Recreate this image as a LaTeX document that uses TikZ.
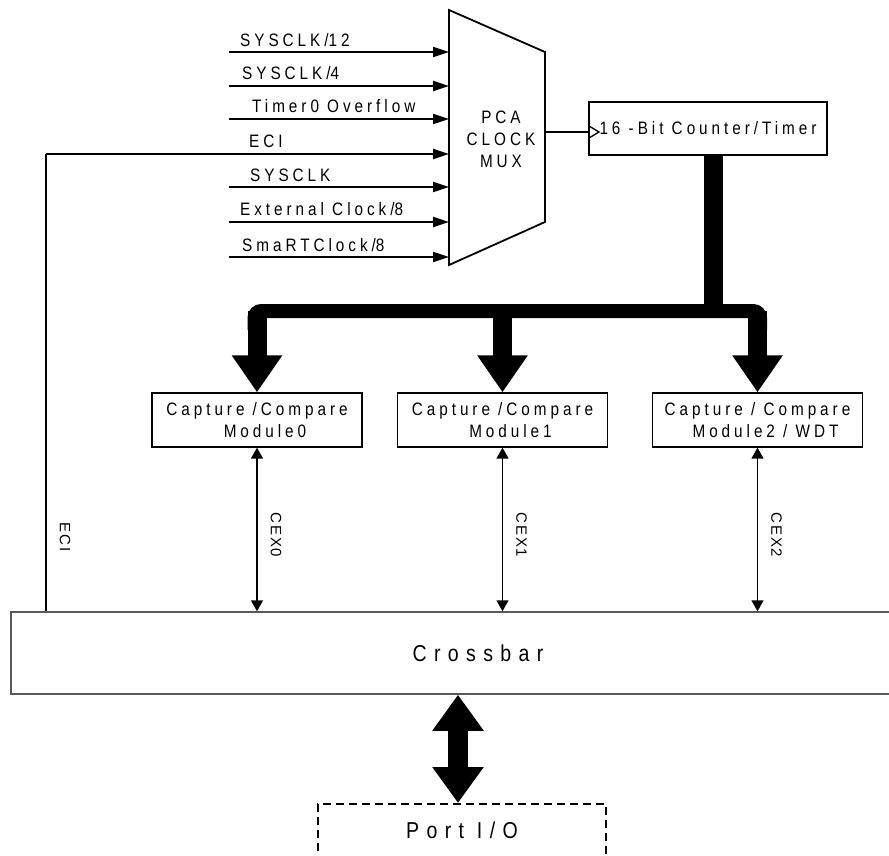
\documentclass[tikz,border=0pt]{standalone}
\usepackage{fontspec}
\setmainfont{Liberation Sans}
\newfontfamily\lf[FakeStretch=0.85,LetterSpace=22]{Liberation Sans}
\newfontfamily\bigf[FakeStretch=0.85,LetterSpace=32]{Liberation Sans}
\newfontfamily\rf[LetterSpace=12]{Liberation Sans}
\usetikzlibrary{arrows.meta}
\begin{document}
\begin{tikzpicture}[x=1pt,y=-1pt,
  lbl/.style={font=\lf\fontsize{18}{22}\selectfont, inner sep=0pt},
  biglbl/.style={font=\bigf\fontsize{23}{26}\selectfont, inner sep=0pt},
  rlbl/.style={font=\rf\fontsize{15}{17}\selectfont, inner sep=0pt, rotate=-90},
  boxnode/.style={draw, line width=1.3pt, inner sep=0pt, align=center, font=\lf\fontsize{18}{22}\selectfont},
  modbox/.style={boxnode, minimum width=210pt, minimum height=54pt},
  inarrow/.style={line width=2pt, -{Triangle[length=16pt,width=10pt]}},
  thinline/.style={line width=2pt},
  cexarrow/.style={line width=1.5pt, {Triangle[length=11pt,width=12pt]}-{Triangle[length=11pt,width=12pt]}},
  busline/.style={line width=19pt},
  bushoriz/.style={line width=14pt, rounded corners=7pt},
  shaft/.style={line width=19pt, -{Triangle[length=37pt,width=48pt]}},
  bigarrow/.style={line width=20pt, {Triangle[length=36pt,width=49pt]}-{Triangle[length=36pt,width=49pt]}},
  portbox/.style={draw, dash pattern=on 8pt off 5pt, line width=1.5pt, minimum width=288pt, minimum height=100pt, inner sep=0pt},
  xbarbox/.style={draw=black!65, line width=1.5pt, minimum width=934pt, minimum height=82pt, inner sep=0pt, font=\bigf\fontsize{23}{26}\selectfont}
]
\useasboundingbox (0,0) rectangle (889,856);
\clip (0,0) rectangle (889,856);
\fill[white] (0,0) rectangle (889,856);

% PCA clock mux
\draw[line width=1.8pt, line join=miter]
  (449,10) coordinate (muxTL) -- (545,52) coordinate (muxTR) --
  (545,222) coordinate (muxBR) -- (449,265) coordinate (muxBL) -- cycle;
\node[lbl, align=center] (muxtxt) at (501,139) {PCA\\CLOCK\\MUX};

% inputs
\foreach \n/\t/\lx/\ly/\y in {1/SYSCLK\slash 12/240/47/52, 2/SYSCLK\slash 4/242/80/86,
   3/Timer0 Overflow/252/113/119, 5/SYSCLK/250/182/187,
   6/External Clock\slash 8/240/215/222, 7/SmaRTClock\slash 8/242/251/257}{
  \coordinate (in\n) at (229,\y);
  \draw[inarrow] (in\n) -- (in\n -| muxTL);
  \node[lbl, anchor=base west] (inl\n) at (\lx,\ly) {\t};
}
\node[lbl, anchor=base west] (inl4) at (249,148) {ECI};

% counter / timer
\node[boxnode, minimum width=238pt, minimum height=53pt] (cnt) at (708,128.5) {16 -Bit Counter/Timer};
\coordinate (clk) at (589,132);
\draw[thinline] (clk -| muxTR) -- (clk);
\draw[line width=1.3pt] (589,126) -- (599,132) -- (589,138);

% capture/compare modules
\node[modbox] (m0) at (257,420) {Capture /Compare\\\hspace*{16pt}Module0};
\node[modbox] (m1) at (502.5,420) {Capture /Compare\\\hspace*{16pt}Module1};
\node[modbox] (m2) at (757.5,420) {Capture / Compare\\\hspace*{16pt}Module2 / WDT};

% thick bus
\coordinate (busX) at (713,311);
\draw[busline] (cnt.south -| busX) -- (busX);
\draw[bushoriz] (254.5,330) -- (254.5,311) -- (760,311) -- (760,330);
\draw[shaft] (m0.north |- busX) -- (m0.north);
\draw[shaft] (m1.north |- busX) -- (m1.north);
\draw[shaft] (m2.north |- busX) -- (m2.north);

% crossbar
\node[xbarbox] (cross) at (478,653) {Crossbar};

% CEX connections
\draw[cexarrow] (m0.south) -- (m0.south |- cross.north);
\draw[cexarrow] (m1.south) -- (m1.south |- cross.north);
\draw[cexarrow] (m2.south) -- (m2.south |- cross.north);
\node[rlbl] (cex0) at (276,535) {CEX0};
\node[rlbl] (cex1) at (521.5,535) {CEX1};
\node[rlbl] (cex2) at (776.5,535) {CEX2};

% ECI from crossbar to mux
\coordinate (eciX) at (46,154);
\draw[thinline] (cross.north -| eciX) -- (eciX);
\draw[inarrow] (eciX) -- (eciX -| muxTL);
\node[rlbl] (ecil) at (65,537) {ECI};

% port I/O
\node[portbox, anchor=north] (port) at (462,803) {};
\node[biglbl, anchor=base] (porttxt) at (462,838) {Port I/O};
\coordinate (bx) at (458,750);
\draw[bigarrow] (cross.south -| bx) -- (port.north -| bx);
\end{tikzpicture}
\end{document}
